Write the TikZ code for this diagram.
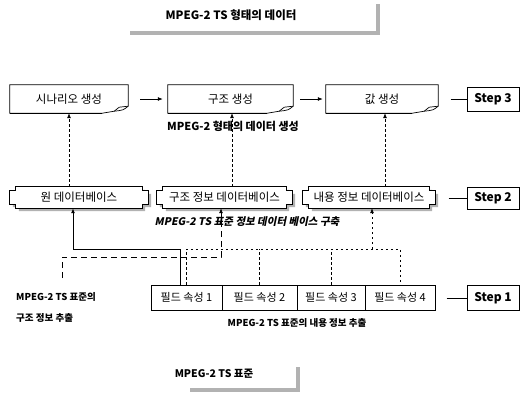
\documentclass[tikz,border=0pt]{standalone}
\usepackage{fontspec}
\setmainfont{Noto Sans CJK KR}
\newfontfamily\krsl[FakeSlant=0.2]{Noto Sans CJK KR}
\usetikzlibrary{arrows.meta,calc}
\newcommand\mydoc[1]{%
  \draw[docline] (#1.north west) -- (#1.north east) -- ($(#1.south east)+(0,-7)$)
    .. controls ($(#1.south east)+(-5,-3)$) .. ($(#1.south east)+(-14,-2)$)
    -- ($(#1.south east)+(-26,0)$) -- (#1.south west) -- cycle;
  \draw[docline] ($(#1.south east)+(-14,-2)$) -- ($(#1.south east)+(-9,-6)$) -- ($(#1.south east)+(0,-7)$);
  \draw[line width=1.2pt] ($(#1.south west)+(0,0)$) -- ($(#1.south east)+(-26,0)$);}
\newcommand\dbpath[3]{($(#1.north west)+(#2+6,#3)$) -- ($(#1.north east)+(#2-6,#3)$)
  -- ($(#1.north east)+(#2-6,#3+4)$) -- ($(#1.north east)+(#2,#3+4)$)
  -- ($(#1.south east)+(#2,#3-4)$) -- ($(#1.south east)+(#2-6,#3-4)$)
  -- ($(#1.south east)+(#2-6,#3)$) -- ($(#1.south west)+(#2+6,#3)$)
  -- ($(#1.south west)+(#2+6,#3-4)$) -- ($(#1.south west)+(#2,#3-4)$)
  -- ($(#1.north west)+(#2,#3+4)$) -- ($(#1.north west)+(#2+6,#3+4)$) -- cycle}
\newcommand\mydb[1]{%
  \fill[gray!60] \dbpath{#1}{3}{3};
  \filldraw[fill=white,draw=black,line width=0.7pt] \dbpath{#1}{0}{0};}
\begin{document}
\begin{tikzpicture}[x=1pt,y=-1pt,
  boxtext/.style={font=\fontsize{11.5}{13}\selectfont, inner sep=0pt, anchor=center},
  dbtext/.style={font=\fontsize{11.5}{13}\selectfont, inner sep=0pt, anchor=center},
  docline/.style={line width=0.7pt},
  stepbox/.style={draw, line width=0.8pt, minimum width=52pt, inner sep=0pt,
     font=\bfseries\fontsize{12}{14}\selectfont},
  fieldbox/.style={draw, line width=0.8pt, minimum height=25pt, inner sep=0pt,
     font=\fontsize{11}{13}\selectfont},
  lab/.style={font=\bfseries\fontsize{9.5}{12}\selectfont, inner sep=0pt},
  biglab/.style={font=\bfseries\fontsize{11.5}{13}\selectfont, inner sep=0pt},
  tip/.style={-{Latex[length=5pt,width=4pt]}},
  arr/.style={tip, line width=0.8pt},
  dotline/.style={line width=0.7pt, dash pattern=on 2.5pt off 2.5pt},
  dotarr/.style={dotline, tip},
  dasharr/.style={line width=0.8pt, dash pattern=on 6pt off 4pt, tip},
  solidarr/.style={line width=1pt, tip},
  shade/.style={fill=gray!60, draw=none}]
\useasboundingbox (0,0) rectangle (521,412);

% top title
\node[biglab] (top) at (231,15) {MPEG-2 TS 형태의 데이터};
\fill[shade] (130,31) rectangle (380,35);
\fill[shade] (376,4) rectangle (380,35);

% step 3 row
\node[boxtext, minimum width=118pt, minimum height=28pt] (s3a) at (69,99) {시나리오 생성};
\node[boxtext, minimum width=125pt, minimum height=28pt] (s3b) at (230.5,99) {구조 생성};
\node[boxtext, minimum width=112pt, minimum height=28pt] (s3c) at (382,99) {값 생성};
\mydoc{s3a}\mydoc{s3b}\mydoc{s3c}
\node[stepbox, minimum height=24pt] (st3) at (493,99) {Step 3};
\node[biglab, font=\bfseries\fontsize{11}{13}\selectfont] (lab3) at (233,126) {MPEG-2 형태의 데이터 생성};

% step 2 row
\node[boxtext, minimum width=138pt, minimum height=21pt] (db1) at (79,197.5) {};
\node[boxtext, minimum width=135pt, minimum height=21pt] (db2) at (224.5,197.5) {};
\node[boxtext, minimum width=132pt, minimum height=21pt] (db3) at (369,197.5) {};
\mydb{db1}\mydb{db2}\mydb{db3}
\node[dbtext] (t1) at (db1) {원 데이터베이스};
\node[dbtext] (t2) at (db2) {구조 정보 데이터베이스};
\node[dbtext] (t3) at (db3) {내용 정보 데이터베이스};
\node[stepbox, minimum height=22pt] (st2) at (493,198) {Step 2};
\node[lab, font=\krsl\bfseries\fontsize{10.5}{12}\selectfont] (lab2) at (247,222) {MPEG-2 TS 표준 정보 데이터 베이스 구축};

% step 1 row
\node[fieldbox, minimum width=71pt] (f1) at (186.5,297.5) {필드 속성 1};
\node[fieldbox, minimum width=75pt] (f2) at (259.5,297.5) {필드 속성 2};
\node[fieldbox, minimum width=68pt] (f3) at (331,297.5) {필드 속성 3};
\node[fieldbox, minimum width=70pt] (f4) at (400,297.5) {필드 속성 4};
\node[stepbox, minimum height=25pt] (st1) at (493,298) {Step 1};
\node[lab, align=left, anchor=west, font=\bfseries\fontsize{9.5}{21}\selectfont] (labL) at (16,307) {MPEG-2 TS 표준의\\구조 정보 추출};
\node[lab] (lab1) at (297,323) {MPEG-2 TS 표준의 내용 정보 추출};

% bottom title
\node[lab, font=\bfseries\fontsize{10.5}{12}\selectfont] (bot) at (214,374) {MPEG-2 TS 표준};
\fill[shade] (190,388) rectangle (300,392);
\fill[shade] (296,367) rectangle (300,392);

% connectors step 3
\draw[arr] ([xshift=12pt]s3a.east) -- ([xshift=-5pt]s3b.west);
\draw[arr] ([xshift=7pt]s3b.east) -- ([xshift=-3pt]s3c.west);
\draw[line width=0.8pt] ([xshift=-16pt]st3.west) -- (st3.west);
\draw[line width=0.8pt] ([xshift=-18pt]st2.west) -- (st2.west);
\draw[line width=0.8pt] ([xshift=-20pt]st1.west) -- (st1.west);

% step2 -> step3
\draw[dotarr] (s3a.south |- db1.north) -- (s3a.south);
\draw[dotarr] ([xshift=1.5pt]s3b.south |- db2.north) -- ([xshift=1.5pt]s3b.south);
\draw[dotarr] ([xshift=3pt]s3c.south |- db3.north) -- ([xshift=3pt]s3c.south);

% step1 -> step2
\coordinate (c1) at (73,249);
\draw[solidarr] ([xshift=-6.5pt]f1.north) |- (c1) -- (c1 |- db1.south);
\coordinate (c2) at (62,278);
\coordinate (c3) at (221,257);
\draw[dasharr] (c2) |- (c3) -- (c3 |- db2.south);
\coordinate (c4) at (372,249);
\draw[dotline] (f1.north) -- (f1.north |- c4) -- (f4.north |- c4) -- (f4.north);
\draw[dotline] (f2.north) -- (f2.north |- c4);
\draw[dotline] (f3.north) -- (f3.north |- c4);
\draw[dotarr] (c4) -- (c4 |- db3.south);
\end{tikzpicture}
\end{document}
